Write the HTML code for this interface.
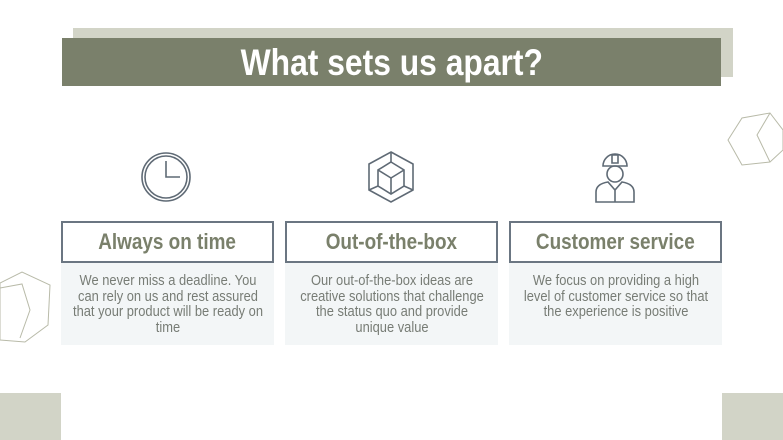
<!DOCTYPE html>
<html><head><style>
body{margin:0;width:783px;height:440px;background:#fff;position:relative;overflow:hidden;font-family:"Liberation Sans",sans-serif}
.a{position:absolute}
.s{display:inline-block;transform:scaleX(0.86);white-space:nowrap}
.h{position:absolute;top:221px;width:209px;height:38px;border:2px solid #6b7682;background:#fff;color:#7a806b;font-weight:bold;font-size:22px;text-align:center;line-height:38px}
.b{position:absolute;top:263px;width:213px;height:82px;background:#f3f6f7;color:#777c75;font-size:15px;line-height:15.5px;padding-top:10px;box-sizing:border-box;white-space:nowrap}
.b div{width:260px;margin-left:-23.5px;text-align:center;transform:scaleX(0.86)}
</style></head><body>
<div class="a" style="left:73px;top:28px;width:660px;height:49px;background:#d2d4c7"></div>
<div class="a" style="left:62px;top:38px;width:659px;height:48px;background:#7a806b;color:#fff;font-weight:bold;font-size:37px;text-align:center;line-height:50px"><span class="s">What sets us apart?</span></div>
<div class="a" style="left:0;top:393px;width:61px;height:47px;background:#d2d4c7"></div>
<div class="a" style="left:722px;top:393px;width:61px;height:47px;background:#d2d4c7"></div>
<svg class="a" style="left:0;top:0" width="783" height="440">
<g fill="none" stroke="#b8baa8" stroke-width="1">
<polygon points="728,140 742,118 770,113 783,130 783,150 770,162 742,165"/>
<polyline points="770,113 757,135 770,162"/>
<polygon points="0,283 22,272 50,285 48,325 25,342 0,340"/>
<polyline points="0,288 22,284 30,310 20,338"/>
</g>
<g fill="none" stroke="#5f6a75" stroke-width="1.6">
<circle cx="166" cy="177" r="24"/><circle cx="166" cy="177" r="21"/>
<polyline points="166,161 166,177 180,177"/>
<polygon points="391,152 413,164 413,190 391,202 369,190 369,164"/>
<polygon points="391,162 404,170 404,186 391,194 378,186 378,170"/>
<line x1="391" y1="152" x2="391" y2="162"/><line x1="413" y1="190" x2="404" y2="186"/><line x1="369" y1="190" x2="378" y2="186"/><line x1="391" y1="178" x2="391" y2="194"/><line x1="378" y1="170" x2="391" y2="178"/><line x1="404" y1="170" x2="391" y2="178"/>
<path d="M603,166 a12,12 0 0 1 24,0 z M612,155 h6 v8 h-6z"/>
<circle cx="615" cy="174" r="8"/>
<path d="M596,202 v-10 q0,-8 12,-10 l7,8 l7,-8 q12,2 12,10 v10 z M615,190 v12"/>
</g>
</svg>
<div class="h" style="left:61px"><span class="s">Always on time</span></div>
<div class="h" style="left:285px"><span class="s">Out-of-the-box</span></div>
<div class="h" style="left:509px"><span class="s">Customer service</span></div>
<div class="b" style="left:61px"><div>We never miss a deadline. You</div><div>can rely on us and rest assured</div><div>that your product will be ready on</div><div>time</div></div>
<div class="b" style="left:285px"><div>Our out-of-the-box ideas are</div><div>creative solutions that challenge</div><div>the status quo and provide</div><div>unique value</div></div>
<div class="b" style="left:509px"><div>We focus on providing a high</div><div>level of customer service so that</div><div>the experience is positive</div></div>
</body></html>
